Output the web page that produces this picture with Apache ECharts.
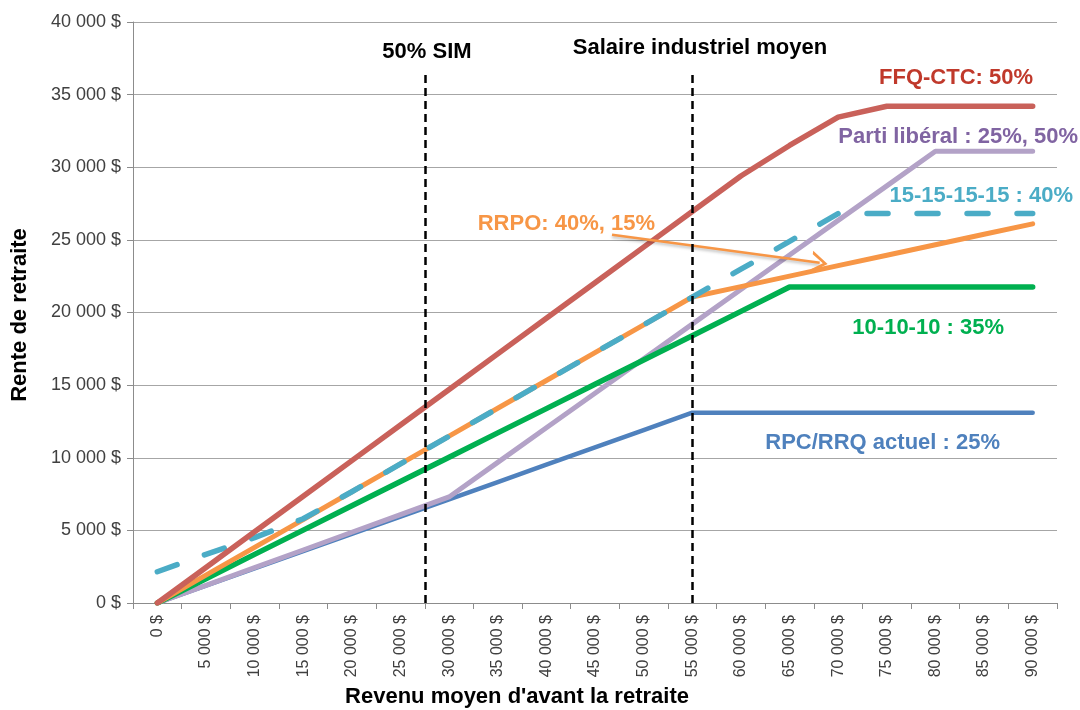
<!DOCTYPE html>
<html>
<head>
<meta charset="utf-8">
<script src="https://cdn.jsdelivr.net/npm/echarts@6/dist/echarts.min.js"></script>
<style>
html,body{margin:0;padding:0;background:#fff;}
#chart{width:1080px;height:710px;}
</style>
</head>
<body>
<div id="chart"></div>
<script>
// ---- Data ----
const incomes = [0,5000,10000,15000,20000,25000,30000,35000,40000,45000,50000,55000,60000,65000,70000,75000,80000,85000,90000];
const yTicks = [0,5000,10000,15000,20000,25000,30000,35000,40000];
const rpcRrq =      [0,1190,2380,3570,4760,5950,7140,8330,9520,10710,11900,13100,13100,13100,13100,13100,13100,13100,13100];
const partiLiberal= [0,1220,2430,3650,4870,6080,7300,9680,12060,14440,16820,19200,21580,23960,26340,28720,31100,31100,31100];
const dix =         [0,1673,3346,5019,6692,8365,10038,11711,13384,15057,16730,18403,20076,21750,21750,21750,21750,21750,21750];
const rrpo =        [0,1915,3830,5745,7660,9575,11490,13405,15320,17235,19150,21065,21785,22505,23225,23945,24665,25385,26105];
const quinze =      [2150,3350,4500,5800,7660,9575,11490,13405,15320,17235,19150,21065,22980,24895,26810,26810,26810,26810,26810];
const ffqCtc =      [0,2450,4900,7350,9800,12250,14700,17150,19600,22050,24500,26950,29400,31500,33450,34200,34200,34200,34200];
const refLines = [{name:'50% SIM', x:27500, top:36400}, {name:'Salaire industriel moyen', x:55000, top:36700}];
const rrpoArrow = [[46750, 25350], [68100, 23420]];

const fmt = v => String(v).replace(/\B(?=(\d{3})+(?!\d))/g, ' ') + ' $';
const pairs = arr => incomes.map((x, i) => [x, arr[i]]);

const chart = echarts.init(document.getElementById('chart'), null, {renderer:'canvas'});
const FONT = '"Liberation Sans", Arial, sans-serif';
const lineSeries = (name, arr, color, width, extra) => Object.assign({
  name, type:'line', xAxisIndex:1, data:pairs(arr), symbol:'none', silent:true,
  lineStyle:{color, width, cap:'round', join:'round'}, animation:false
}, extra || {});

const option = {
  animation:false,
  grid:{left:133, right:23, top:22, bottom:107, containLabel:false},
  xAxis:[{
    type:'category', data:incomes.map(fmt), boundaryGap:true,
    axisLine:{lineStyle:{color:'#8c8c8c', width:1}},
    axisTick:{show:true, alignWithLabel:false, interval:0, length:6, lineStyle:{color:'#8c8c8c'}},
    axisLabel:{rotate:90, interval:0, margin:12, fontSize:16, color:'#404040', fontFamily:FONT},
    splitLine:{show:false}
  },{
    type:'value', min:-2500, max:92500, show:false
  }],
  yAxis:{
    type:'value', min:yTicks[0], max:yTicks[yTicks.length-1], interval:5000,
    axisLine:{show:true, onZero:false, lineStyle:{color:'#8c8c8c'}},
    axisTick:{show:true, length:6, lineStyle:{color:'#8c8c8c'}},
    axisLabel:{formatter:fmt, fontSize:18, color:'#404040', fontFamily:FONT, margin:12},
    splitLine:{lineStyle:{color:'#a6a6a6', width:1}}
  },
  series:[
    lineSeries('RPC/RRQ actuel : 25%', rpcRrq, '#4F81BD', 4.5),
    lineSeries('Parti libéral : 25%, 50%', partiLiberal, '#B3A2C7', 5),
    lineSeries('10-10-10 : 35%', dix, '#00B050', 5.5),
    lineSeries('RRPO: 40%, 15%', rrpo, '#F79646', 5, {
      markLine:{silent:true, symbol:['none','path://M0,10 L5,0 L10,10 L8.4,10 L5,3 L1.6,10 Z'], symbolSize:[22,16],
        label:{show:false}, lineStyle:{color:'#F79646', width:2.5, type:'solid', shadowColor:'rgba(0,0,0,0.25)', shadowBlur:3, shadowOffsetY:2},
        data:[[{coord:rrpoArrow[0]},{coord:rrpoArrow[1]}]]}
    }),
    lineSeries('15-15-15-15 : 40%', quinze, '#4BACC6', 5, {lineStyle:{color:'#4BACC6', width:5.5, type:[21,29], cap:'round', join:'round'}}),
    lineSeries('FFQ-CTC: 50%', ffqCtc, '#C9615A', 5.5),
    {
      type:'line', xAxisIndex:1, data:[], silent:true,
      markLine:{silent:true, symbol:['none','none'], label:{show:false},
        lineStyle:{color:'#000', width:2.5, type:[8,5]},
        data:refLines.map(r => [{coord:[r.x, 0]},{coord:[r.x, r.top]}])}
    }
  ],
  graphic:[
    {type:'text', x:427, y:52, style:{text:'50% SIM', font:'bold 22px '+FONT, fill:'#000', align:'center', verticalAlign:'middle'}},
    {type:'text', x:700, y:48, style:{text:'Salaire industriel moyen', font:'bold 22px '+FONT, fill:'#000', align:'center', verticalAlign:'middle'}},
    {type:'text', x:1033, y:78, style:{text:'FFQ-CTC: 50%', font:'bold 22px '+FONT, fill:'#C0392B', align:'right', verticalAlign:'middle'}},
    {type:'text', x:1078, y:137, style:{text:'Parti libéral : 25%, 50%', font:'bold 22px '+FONT, fill:'#8064A2', align:'right', verticalAlign:'middle'}},
    {type:'text', x:1073, y:196, style:{text:'15-15-15-15 : 40%', font:'bold 22px '+FONT, fill:'#4BACC6', align:'right', verticalAlign:'middle'}},
    {type:'text', x:655, y:224, style:{text:'RRPO: 40%, 15%', font:'bold 22px '+FONT, fill:'#F79646', align:'right', verticalAlign:'middle'}},
    {type:'text', x:1004, y:328, style:{text:'10-10-10 : 35%', font:'bold 22px '+FONT, fill:'#00B050', align:'right', verticalAlign:'middle'}},
    {type:'text', x:1000, y:443, style:{text:'RPC/RRQ actuel : 25%', font:'bold 22px '+FONT, fill:'#4F81BD', align:'right', verticalAlign:'middle'}},
    {type:'text', x:517, y:697, style:{text:"Revenu moyen d'avant la retraite", font:'bold 22px '+FONT, fill:'#000', align:'center', verticalAlign:'middle'}},
    {type:'text', x:20, y:315, rotation:Math.PI/2, style:{text:'Rente de retraite', font:'bold 22px '+FONT, fill:'#000', align:'center', verticalAlign:'middle'}}
  ]
};
chart.setOption(option);
</script>
</body>
</html>
